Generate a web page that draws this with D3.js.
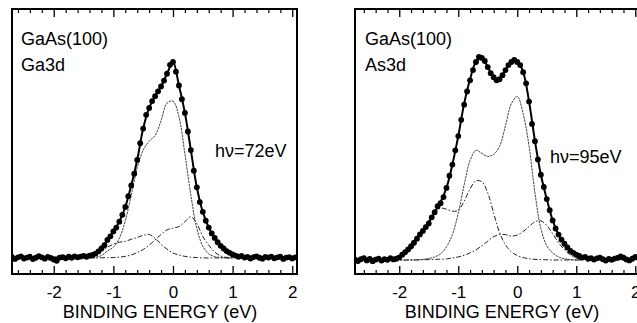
<!DOCTYPE html>
<html>
<head>
<meta charset="utf-8">
<script src="https://cdn.jsdelivr.net/npm/d3@7"></script>
<style>
  body { margin: 0; background: #fff; }
  svg { display: block; font-family: "Liberation Sans", Arial, sans-serif; }
</style>
</head>
<body>
<script>
// tick labels shared by both panels
const majorTicks = [-2, -1, 0, 1, 2];
const minorTicks = [-2.6, -2.4, -2.2, -1.8, -1.6, -1.4, -1.2, -0.8, -0.6, -0.4, -0.2,
  0.2, 0.4, 0.6, 0.8, 1.2, 1.4, 1.6, 1.8];

// Ga3d measured points [binding energy, intensity]
const ga3dPoints = [
  [-2.70, 0.5], [-2.65, -0.5], [-2.60, 0.3], [-2.55, 0.8], [-2.50, -0.3], [-2.45, 0.2],
  [-2.40, 0.6], [-2.35, -0.6], [-2.30, 0.1], [-2.25, 0.9], [-2.20, 0.3], [-2.15, -0.4],
  [-2.10, 0.5], [-2.05, 0.0], [-2.00, -0.8], [-1.95, -1.5], [-1.90, 0.2], [-1.85, 0.4],
  [-1.80, -0.2], [-1.75, 0.6], [-1.70, 0.1], [-1.65, 0.8], [-1.60, 0.3], [-1.55, 0.7],
  [-1.50, 1.0], [-1.45, 0.6], [-1.40, 1.2], [-1.35, 1.5], [-1.30, 2.2], [-1.25, 3.3],
  [-1.20, 4.8], [-1.15, 6.5], [-1.10, 9.2], [-1.05, 11.0], [-1.00, 13.5], [-0.95, 15.5],
  [-0.90, 18.5], [-0.85, 22.0], [-0.80, 26.0], [-0.75, 31.5], [-0.70, 37.0], [-0.65, 43.0],
  [-0.60, 50.0], [-0.55, 58.5], [-0.50, 66.0], [-0.45, 73.0], [-0.40, 76.5], [-0.35, 80.0],
  [-0.30, 82.5], [-0.25, 85.0], [-0.20, 87.5], [-0.15, 90.5], [-0.10, 94.0], [-0.05, 98.5],
  [0.00, 100.0], [0.05, 95.0], [0.10, 88.0], [0.15, 81.0], [0.20, 74.0], [0.25, 64.5],
  [0.30, 55.0], [0.35, 44.5], [0.40, 36.0], [0.45, 28.5], [0.50, 23.5], [0.55, 19.0],
  [0.60, 15.5], [0.65, 12.5], [0.70, 10.2], [0.75, 8.0], [0.80, 6.2], [0.85, 4.8],
  [0.90, 3.5], [0.95, 2.6], [1.00, 1.8], [1.05, 1.2], [1.10, 0.6], [1.15, 1.0],
  [1.20, 0.2], [1.25, 0.5], [1.30, -0.3], [1.35, 0.4], [1.40, 0.8], [1.45, 0.1],
  [1.50, -0.4], [1.55, 0.5], [1.60, 0.2], [1.65, 0.7], [1.70, -0.2], [1.75, 0.3],
  [1.80, 0.6], [1.85, -0.5], [1.90, 0.2], [1.95, 0.4], [2.00, -0.3], [2.05, 0.3]
];

// Ga3d fit envelope
const ga3dFitE = [-2.7, -2.6, -2.5, -2.4, -2.3, -2.2, -2.1, -2.0, -1.9, -1.8, -1.7, -1.6,
  -1.5, -1.4, -1.3, -1.2, -1.1, -1.0, -0.9, -0.8, -0.7, -0.6, -0.5, -0.4, -0.3, -0.2, -0.1,
  0.0, 0.1, 0.2, 0.3, 0.4, 0.5, 0.6, 0.7, 0.8, 0.9, 1.0, 1.1, 1.2, 1.3, 1.4, 1.5, 1.6, 1.7,
  1.8, 1.9, 2.0, 2.1];
const ga3dFit = [0.2, 0.2, 0.2, 0.2, 0.2, 0.2, 0.2, 0.2, 0.2, 0.3, 0.4, 0.5,
  0.8, 1.2, 2.2, 4.8, 9.2, 13.5, 18.5, 26, 37, 50, 66, 76.5, 82.5, 87.5, 94,
  100, 88, 74, 55, 36, 23.5, 15.5, 10.2, 6.2, 3.5, 1.8, 0.8, 0.4, 0.3, 0.3, 0.3, 0.3, 0.3,
  0.3, 0.3, 0.3, 0.3];

// Ga3d components
const ga3dCompE = [-1.4, -1.3, -1.2, -1.1, -1.0, -0.9, -0.8, -0.7, -0.6, -0.5, -0.4, -0.3,
  -0.2, -0.1, 0.0, 0.1, 0.2, 0.3, 0.4, 0.5, 0.6, 0.7, 0.8, 0.9, 1.0];
const ga3dBulk = [0, 0.3, 1.2, 3.5, 5.5, 10, 19, 32, 46, 55, 59.5, 62.5,
  70, 79, 80, 72, 53, 32, 15, 6, 2, 0.7, 0.2, 0, 0];
const ga3dS1 = [0.5, 1.5, 3.5, 5.5, 7, 8, 8.5, 9.5, 10.5, 11.5, 12, 10,
  7, 4.5, 2.5, 1.5, 0.8, 0.4, 0.2, 0, 0, 0, 0, 0, 0];
const ga3dS2 = [0, 0, 0.1, 0.1, 0.2, 0.4, 0.8, 1.5, 2.7, 4.3, 6.5, 9.2,
  12, 14.3, 15.2, 16, 18.5, 21, 17.5, 11, 6.5, 3, 1, 0.3, 0];

// As3d measured points
const as3dPoints = [
  [-2.75, 0.3], [-2.70, -0.5], [-2.65, 0.4], [-2.60, 0.9], [-2.55, -0.2], [-2.50, 0.5],
  [-2.45, -0.6], [-2.40, 0.2], [-2.35, 0.7], [-2.30, -0.3], [-2.25, 0.4], [-2.20, 0.1],
  [-2.15, 0.9], [-2.10, 0.3], [-2.05, 0.6], [-2.00, 1.3], [-1.95, 2.6], [-1.90, 3.9],
  [-1.85, 5.2], [-1.80, 6.8], [-1.75, 8.5], [-1.70, 10.5], [-1.65, 12.6], [-1.60, 14.3],
  [-1.55, 16.2], [-1.50, 18.0], [-1.45, 21.0], [-1.40, 23.5], [-1.35, 26.5], [-1.30, 28.0],
  [-1.25, 31.0], [-1.20, 35.5], [-1.15, 41.5], [-1.10, 47.0], [-1.05, 54.0], [-1.00, 61.0],
  [-0.95, 69.0], [-0.90, 76.5], [-0.85, 83.0], [-0.80, 88.5], [-0.75, 93.5], [-0.70, 97.5],
  [-0.65, 100.0], [-0.60, 99.5], [-0.55, 98.0], [-0.50, 95.0], [-0.45, 92.0], [-0.40, 90.0],
  [-0.35, 88.5], [-0.30, 89.0], [-0.25, 91.0], [-0.20, 93.5], [-0.15, 96.0], [-0.10, 97.5],
  [-0.05, 98.5], [0.00, 97.5], [0.05, 96.0], [0.10, 92.5], [0.15, 87.0], [0.20, 78.0],
  [0.25, 67.0], [0.30, 58.5], [0.35, 49.5], [0.40, 42.0], [0.45, 36.0], [0.50, 30.0],
  [0.55, 24.5], [0.60, 19.5], [0.65, 15.5], [0.70, 12.5], [0.75, 10.0], [0.80, 8.0],
  [0.85, 6.2], [0.90, 4.5], [0.95, 3.5], [1.00, 2.6], [1.05, 2.0], [1.10, 1.2],
  [1.15, 1.5], [1.20, 0.6], [1.25, 0.9], [1.30, 0.2], [1.35, 0.8], [1.40, 1.2],
  [1.45, 0.4], [1.50, -0.3], [1.55, 0.5], [1.60, 0.1], [1.65, 0.7], [1.70, 1.0],
  [1.75, 1.8], [1.80, 1.1], [1.85, 0.3], [1.90, -0.2], [1.95, 0.6], [2.00, 1.5], [2.05, 1.0]
];

const as3dFitE = ga3dFitE;
const as3dFit = [0.3, 0.3, 0.3, 0.3, 0.3, 0.3, 0.4, 1.0, 3.8, 6.8, 10.5, 14.5,
  18.5, 23.5, 28.5, 35.5, 47, 61, 77, 89, 97.5, 99.5, 95, 90, 89, 93.5, 97.5,
  98, 92.5, 78, 58.5, 42, 30, 19.5, 12.5, 8, 4.5, 2.6, 1.3, 0.7, 0.5, 0.5, 0.5, 0.5, 0.6,
  0.6, 0.5, 0.5, 0.5];

const as3dCompE = [-2.1, -2.0, -1.9, -1.8, -1.7, -1.6, -1.5, -1.4, -1.3, -1.2, -1.1, -1.0,
  -0.9, -0.8, -0.7, -0.6, -0.5, -0.4, -0.3, -0.2, -0.1, 0.0, 0.1, 0.2, 0.3, 0.4, 0.5, 0.6,
  0.7, 0.8, 0.9, 1.0, 1.1];
const as3dBulk = [0, 0, 0, 0, 0.1, 0.3, 0.7, 1.5, 3, 6.5, 12.5, 23,
  37, 49, 54, 52.5, 51, 52, 56, 66, 77, 80.5, 72, 56, 33, 15.5, 7, 3.5,
  1.5, 0.6, 0.2, 0, 0];
const as3dS1 = [0, 1, 2.5, 5, 9.5, 15, 19.5, 23, 25.5, 25, 24, 24.5,
  29, 35, 39, 38.5, 33, 23, 13.5, 7.5, 4, 2.2, 1.2, 0.6, 0.3, 0.2, 0.1, 0,
  0, 0, 0, 0, 0];
const as3dS2 = [0, 0, 0, 0, 0, 0.1, 0.2, 0.3, 0.4, 0.5, 1, 1.5,
  2.3, 3.5, 5, 7, 9.3, 11.5, 12.5, 12.5, 11.8, 12.3, 14, 16.5, 18.8, 19.3, 17, 13,
  8.5, 5, 2.5, 1, 0.3];

const width = 637, height = 323;
const svg = d3.select("body").append("svg")
    .attr("width", width)
    .attr("height", height);

const drawPanel = (p) => {
  const x = d3.scaleLinear().domain(p.xDomain).range([p.left, p.right]);
  const y = d3.scaleLinear().domain(p.yDomain).range([274, 9]);
  const g = svg.append("g");

  g.append("clipPath").attr("id", p.id)
    .append("rect")
      .attr("x", p.left).attr("y", 9)
      .attr("width", p.right - p.left).attr("height", 265);

  const plot = g.append("g").attr("clip-path", "url(#" + p.id + ")");

  const line = d3.line()
      .x(d => x(d[0]))
      .y(d => y(d[1]))
      .curve(d3.curveCatmullRom.alpha(0.5));

  const zip = (es, vs) => es.map((e, i) => [e, vs[i]]);

  // fit components
  p.comps.forEach(c => {
    plot.append("path")
        .datum(zip(p.compE, c.values))
        .attr("d", line)
        .attr("fill", "none")
        .attr("stroke", c.color)
        .attr("stroke-width", c.width)
        .attr("stroke-dasharray", c.dash);
  });

  // fit envelope
  plot.append("path")
      .datum(zip(p.fitE, p.fit))
      .attr("d", line)
      .attr("fill", "none")
      .attr("stroke", "#000")
      .attr("stroke-width", 2);

  // measured points
  plot.append("g")
    .selectAll("circle")
    .data(p.points)
    .enter()
    .append("circle")
      .attr("cx", d => x(d[0]))
      .attr("cy", d => y(d[1]))
      .attr("r", 2.9)
      .attr("fill", "#000");

  // frame
  g.append("rect")
      .attr("x", p.left).attr("y", 9)
      .attr("width", p.right - p.left).attr("height", 265)
      .attr("fill", "none")
      .attr("stroke", "#000")
      .attr("stroke-width", 2);

  // bottom axis, ticks pointing inward
  const bottomMajor = g.append("g")
      .attr("transform", "translate(0,274)")
      .call(d3.axisBottom(x).tickValues(majorTicks).tickSize(-8).tickPadding(12)
        .tickFormat(d => String(d)));
  bottomMajor.select(".domain").remove();
  bottomMajor.selectAll("line").attr("stroke-width", 1.3);
  bottomMajor.selectAll("text")
      .attr("font-size", 17)
      .attr("fill", "#000")
      .attr("font-family", "Liberation Sans, Arial, sans-serif");

  const bottomMinor = g.append("g")
      .attr("transform", "translate(0,274)")
      .call(d3.axisBottom(x).tickValues(minorTicks).tickSize(-4).tickFormat(""));
  bottomMinor.select(".domain").remove();
  bottomMinor.selectAll("line").attr("stroke-width", 1.2);

  const topMajor = g.append("g")
      .attr("transform", "translate(0,9)")
      .call(d3.axisTop(x).tickValues(majorTicks).tickSize(-8).tickFormat(""));
  topMajor.select(".domain").remove();
  topMajor.selectAll("line").attr("stroke-width", 1.3);

  const topMinor = g.append("g")
      .attr("transform", "translate(0,9)")
      .call(d3.axisTop(x).tickValues(minorTicks).tickSize(-4).tickFormat(""));
  topMinor.select(".domain").remove();
  topMinor.selectAll("line").attr("stroke-width", 1.2);

  // axis title
  g.append("text")
      .attr("x", p.titleX)
      .attr("y", 318)
      .attr("text-anchor", "middle")
      .attr("font-size", 18)
      .text("BINDING ENERGY (eV)");

  // labels
  p.labels.forEach(l => {
    g.append("text")
        .attr("x", l.x)
        .attr("y", l.y)
        .attr("font-size", 18)
        .text(l.text);
  });
};

drawPanel({
  id: "clipGa",
  left: 12, right: 297,
  xDomain: [-2.7, 2.08],
  yDomain: [-8.2, 127],
  points: ga3dPoints,
  fitE: ga3dFitE, fit: ga3dFit,
  compE: ga3dCompE,
  comps: [
    { values: ga3dBulk, dash: "2.5,0.8", width: 1, color: "#444" },
    { values: ga3dS1, dash: "5,2,1.5,2", width: 1, color: "#222" },
    { values: ga3dS2, dash: "5,2,1.5,2", width: 1, color: "#222" }
  ],
  titleX: 160,
  labels: [
    { text: "GaAs(100)", x: 21, y: 45 },
    { text: "Ga3d", x: 21, y: 71 },
    { text: "h\u03bd=72eV", x: 215, y: 157 }
  ]
});

drawPanel({
  id: "clipAs",
  left: 355, right: 640,
  xDomain: [-2.75, 2.08],
  yDomain: [-6.9, 123.6],
  points: as3dPoints,
  fitE: as3dFitE, fit: as3dFit,
  compE: as3dCompE,
  comps: [
    { values: as3dBulk, dash: "2.5,0.8", width: 1, color: "#444" },
    { values: as3dS1, dash: "5,2,1.5,2", width: 1, color: "#222" },
    { values: as3dS2, dash: "5,2,1.5,2", width: 1, color: "#222" }
  ],
  titleX: 502,
  labels: [
    { text: "GaAs(100)", x: 365, y: 45 },
    { text: "As3d", x: 365, y: 71 },
    { text: "h\u03bd=95eV", x: 550, y: 163 }
  ]
});
</script>
</body>
</html>
